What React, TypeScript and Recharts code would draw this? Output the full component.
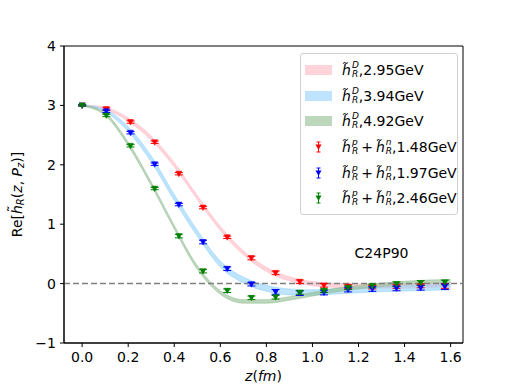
import {
  Area,
  ComposedChart,
  ErrorBar,
  ReferenceArea,
  ReferenceDot,
  ReferenceLine,
  Scatter,
  XAxis,
  YAxis,
} from "recharts";

// lattice z values (fm)
const zValues = [0, 0.105, 0.21, 0.315, 0.42, 0.525, 0.63, 0.735, 0.84, 0.945, 1.05, 1.155, 1.26, 1.365, 1.47, 1.575];

// lattice points: h_R^p + h_R^n
const red148 = [3.0, 2.94, 2.72, 2.38, 1.85, 1.28, 0.78, 0.43, 0.18, 0.03, -0.03, -0.05, -0.06, -0.05, -0.04, -0.04];
const redErr = [0.01, 0.02, 0.02, 0.02, 0.02, 0.02, 0.02, 0.03, 0.03, 0.03, 0.03, 0.03, 0.03, 0.03, 0.03, 0.04];
const blue197 = [3.0, 2.9, 2.54, 2.01, 1.33, 0.7, 0.25, -0.01, -0.14, -0.16, -0.15, -0.1, -0.09, -0.08, -0.07, -0.05];
const blueErr = [0.01, 0.02, 0.02, 0.02, 0.02, 0.03, 0.03, 0.03, 0.04, 0.04, 0.04, 0.04, 0.04, 0.04, 0.04, 0.05];
const green246 = [3.0, 2.83, 2.32, 1.6, 0.8, 0.21, -0.12, -0.24, -0.23, -0.15, -0.12, -0.07, -0.04, -0.01, 0.01, 0.02];
const greenErr = [0.01, 0.02, 0.02, 0.02, 0.03, 0.03, 0.03, 0.03, 0.03, 0.03, 0.03, 0.03, 0.03, 0.04, 0.04, 0.04];

// deuteron bands h_R^D
const bandZ = [0, 0.1, 0.2, 0.3, 0.4, 0.5, 0.6, 0.7, 0.8, 0.9, 1.0, 1.1, 1.2, 1.3, 1.4, 1.5, 1.6];
const pink295 = [3.0, 2.95, 2.76, 2.45, 2.0, 1.45, 0.93, 0.52, 0.24, 0.08, 0.0, -0.03, -0.04, -0.04, -0.04, -0.03, -0.02];
const pinkErr = [0.01, 0.02, 0.03, 0.035, 0.035, 0.035, 0.035, 0.035, 0.035, 0.035, 0.035, 0.035, 0.035, 0.035, 0.035, 0.035, 0.035];
const sky394 = [3.0, 2.91, 2.6, 2.1, 1.45, 0.85, 0.33, 0.06, -0.08, -0.14, -0.15, -0.13, -0.11, -0.09, -0.08, -0.07, -0.06];
const skyErr = [0.01, 0.02, 0.04, 0.05, 0.05, 0.05, 0.05, 0.05, 0.05, 0.05, 0.045, 0.045, 0.045, 0.045, 0.045, 0.045, 0.045];
const sea492 = [3.0, 2.85, 2.35, 1.68, 0.95, 0.27, -0.15, -0.3, -0.3, -0.25, -0.18, -0.11, -0.06, -0.02, 0.01, 0.03, 0.04];
const seaErr = [0.01, 0.02, 0.03, 0.03, 0.03, 0.03, 0.03, 0.03, 0.03, 0.03, 0.03, 0.03, 0.03, 0.03, 0.03, 0.03, 0.03];

const xTicks = [0, 0.2, 0.4, 0.6, 0.8, 1.0, 1.2, 1.4, 1.6];
const yTicks = [-1, 0, 1, 2, 3, 4];
const xDomain = [-0.07875, 1.65375];
const yDomain = [-1, 4];

const FONT = "DejaVu Sans";

const points = (vals: number[], errs: number[]) =>
  zValues.map((x, i) => ({ x, y: vals[i], err: errs[i] }));
const band = (vals: number[], errs: number[]) =>
  bandZ.map((x, i) => ({ x, lo: vals[i] - errs[i], hi: vals[i] + errs[i] }));

const Tri = (color: string) => (props: any) => {
  const { cx, cy } = props;
  if (cx == null || cy == null) return <g />;
  return <path d={`M${cx - 3},${cy - 2.5} L${cx + 3},${cy - 2.5} L${cx},${cy + 3} Z`} fill={color} stroke={color} strokeWidth={0.5} />;
};

const H = ({ sup, sub }: { sup: string; sub: string }) => (
  <span style={{ display: "inline-flex", alignItems: "center" }}>
    <i>h̃</i>
    <span style={{ display: "inline-flex", flexDirection: "column", fontSize: 9, lineHeight: "9px", fontStyle: "italic", marginLeft: 1 }}>
      <span>{sup}</span>
      <span>{sub}</span>
    </span>
  </span>
);

const legendBands = [
  { color: "#ffc0cb", op: 0.7, label: "2.95GeV" },
  { color: "#87cefa", op: 0.55, label: "3.94GeV" },
  { color: "#8fbc8f", op: 0.6, label: "4.92GeV" },
];
const legendPoints = [
  { color: "#ff0000", label: "1.48GeV" },
  { color: "#0000ff", label: "1.97GeV" },
  { color: "#008000", label: "2.46GeV" },
];

const rowStyle = { height: 25.7, display: "flex", alignItems: "center" } as const;

const LegendBox = () => (
  <div
    style={{
      position: "absolute",
      left: 300,
      top: 53,
      width: 156,
      padding: "3px 0",
      border: "1px solid #d0d0d0",
      borderRadius: 3,
      background: "rgba(255,255,255,0.8)",
      fontFamily: FONT,
      fontSize: 14,
      color: "#000",
    }}
  >
    {legendBands.map((b) => (
      <div key={b.label} style={rowStyle}>
        <div style={{ width: 27, height: 10, marginLeft: 4, marginRight: 10, background: b.color, opacity: b.op }} />
        <H sup="D" sub="R" />
        <span>,{b.label}</span>
      </div>
    ))}
    {legendPoints.map((p) => (
      <div key={p.label} style={rowStyle}>
        <svg width={27} height={14} style={{ marginLeft: 4, marginRight: 10 }}>
          <line x1={13.5} x2={13.5} y1={2} y2={12} stroke={p.color} />
          <line x1={11.5} x2={15.5} y1={2} y2={2} stroke={p.color} />
          <line x1={11.5} x2={15.5} y1={12} y2={12} stroke={p.color} />
          <path d="M10.5,4.5 L16.5,4.5 L13.5,10 Z" fill={p.color} />
        </svg>
        <H sup="p" sub="R" />
        <span style={{ margin: "0 3px" }}>+</span>
        <H sup="n" sub="R" />
        <span>,{p.label}</span>
      </div>
    ))}
  </div>
);

const YLabel = (props: any) => {
  const vb = props.viewBox || { x: 0, y: 46, height: 297 };
  const cy = vb.y + vb.height / 2;
  return (
    <text transform={`translate(17,${cy}) rotate(-90)`} textAnchor="middle" dominantBaseline="central" fontFamily={FONT} fontSize={14} fill="#000">
      Re[<tspan fontStyle="italic">h</tspan>
      <tspan dx={-7} dy={-4}>˜</tspan>
      <tspan fontSize={10} fontStyle="italic" dy={7}>R</tspan>
      <tspan dy={-3}>(</tspan>
      <tspan fontStyle="italic">z</tspan>, <tspan fontStyle="italic">P</tspan>
      <tspan fontSize={10} fontStyle="italic" dy={3}>z</tspan>
      <tspan dy={-3}>)]</tspan>
    </text>
  );
};

const XLabel = (props: any) => {
  const vb = props.viewBox || { x: 64, y: 343, width: 399 };
  return (
    <text x={vb.x + vb.width / 2} y={vb.y + 38} textAnchor="middle" fontFamily={FONT} fontSize={14} fill="#000">
      <tspan fontStyle="italic">z</tspan>(<tspan fontStyle="italic">fm</tspan>)
    </text>
  );
};

const tickStyle = { fontFamily: FONT, fontSize: 14, fill: "#000" };

export default function App() {
  return (
    <div style={{ position: "absolute", left: 0, top: 0, width: 515, height: 386, background: "#fff" }}>
      <ComposedChart width={515} height={386} margin={{ top: 46, right: 52, bottom: 0, left: 0 }}>
        <XAxis
          dataKey="x"
          type="number"
          domain={xDomain}
          ticks={xTicks}
          allowDataOverflow
          tickFormatter={(v: number) => v.toFixed(1)}
          tick={tickStyle}
          tickSize={4}
          tickMargin={5}
          height={43}
          stroke="#000"
          label={<XLabel />}
        />
        <YAxis
          type="number"
          domain={yDomain}
          ticks={yTicks}
          allowDataOverflow
          tickFormatter={(v: number) => (v < 0 ? "\u2212" + Math.abs(v) : String(v))}
          tick={tickStyle}
          tickSize={4}
          tickMargin={4}
          width={64}
          stroke="#000"
          label={<YLabel />}
        />
        <ReferenceLine y={0} stroke="#808080" strokeDasharray="6 3" strokeWidth={1.5} />
        <Area data={band(pink295, pinkErr)} dataKey={(d: any) => [d.lo, d.hi]} type="monotone" fill="#ffc0cb" fillOpacity={0.7} stroke="#ffc0cb" strokeOpacity={0.6} isAnimationActive={false} />
        <Area data={band(sky394, skyErr)} dataKey={(d: any) => [d.lo, d.hi]} type="monotone" fill="#87cefa" fillOpacity={0.55} stroke="#87cefa" strokeOpacity={0.5} isAnimationActive={false} />
        <Area data={band(sea492, seaErr)} dataKey={(d: any) => [d.lo, d.hi]} type="monotone" fill="#8fbc8f" fillOpacity={0.6} stroke="#8fbc8f" strokeOpacity={0.5} isAnimationActive={false} />
        <Scatter data={points(red148, redErr)} dataKey="y" shape={Tri("#ff0000")} isAnimationActive={false}>
          <ErrorBar dataKey="err" direction="y" width={4} stroke="#ff0000" strokeWidth={1} />
        </Scatter>
        <Scatter data={points(blue197, blueErr)} dataKey="y" shape={Tri("#0000ff")} isAnimationActive={false}>
          <ErrorBar dataKey="err" direction="y" width={4} stroke="#0000ff" strokeWidth={1} />
        </Scatter>
        <Scatter data={points(green246, greenErr)} dataKey="y" shape={Tri("#008000")} isAnimationActive={false}>
          <ErrorBar dataKey="err" direction="y" width={4} stroke="#008000" strokeWidth={1} />
        </Scatter>
        <ReferenceDot
          x={1.3}
          y={0.51}
          r={0}
          fill="none"
          stroke="none"
          label={{ value: "C24P90", position: "center", fontFamily: FONT, fontSize: 14, fill: "#000" }}
        />
        <ReferenceArea x1={xDomain[0]} x2={xDomain[1]} y1={yDomain[0]} y2={yDomain[1]} fill="none" stroke="#000" strokeWidth={1} fillOpacity={0} ifOverflow="visible" />
      </ComposedChart>
      <LegendBox />
    </div>
  );
}
